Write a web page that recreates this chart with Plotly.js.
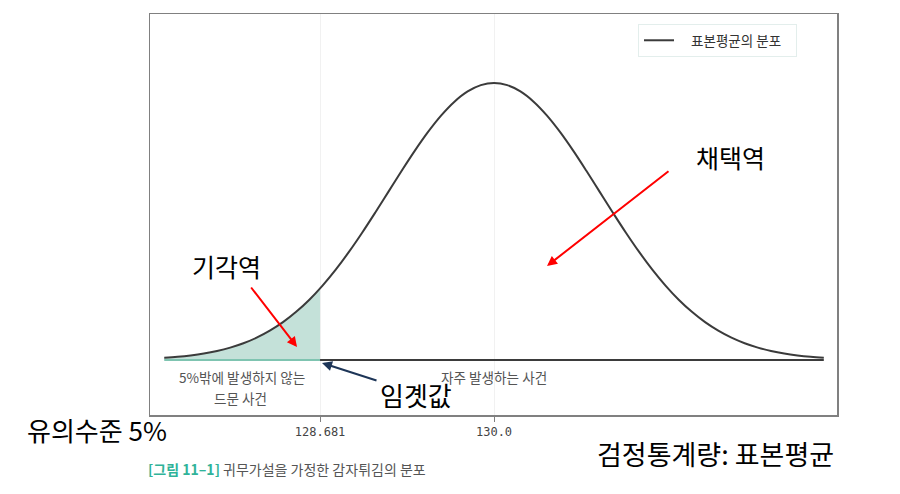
<!DOCTYPE html>
<html>
<head>
<meta charset="utf-8">
<script src="https://cdn.plot.ly/plotly-3.0.1.min.js"></script>
<style>html,body{margin:0;padding:0;background:#fff;}#chart{width:900px;height:494px;}</style>
</head>
<body>
<div id="chart"></div>
<script>
// Sample-mean values (x) and estimated curve heights
const xVals = [127.5,127.6,127.7,127.8,127.9,128.0,128.1,128.2,128.3,128.4,128.5,128.6,128.7,128.8,128.9,129.0,129.1,129.2,129.3,129.4,129.5,129.6,129.7,129.8,129.9,130.0,
               130.1,130.2,130.3,130.4,130.5,130.6,130.7,130.8,130.9,131.0,131.1,131.2,131.3,131.4,131.5,131.6,131.7,131.8,131.9,132.0,132.1,132.2,132.3,132.4,132.5];
const yVals = [0.0039,0.0056,0.0081,0.0115,0.0161,0.0222,0.0300,0.0400,0.0526,0.0679,0.0865,0.1083,0.1337,0.1623,0.1941,0.2286,0.2650,0.3024,0.3398,0.3760,0.4096,0.4393,0.4639,0.4823,0.4936,0.4975,
               0.4936,0.4823,0.4639,0.4393,0.4096,0.3760,0.3398,0.3024,0.2650,0.2286,0.1941,0.1623,0.1337,0.1083,0.0865,0.0679,0.0526,0.0400,0.0300,0.0222,0.0161,0.0115,0.0081,0.0056,0.0039];
const criticalX = 128.681;
const criticalY = 0.1286;
const meanX = 130.0;
const tickVals = [128.681, 130.0];
const tickText = ['128.681', '130.0'];
const legendLabel = '표본평균의 분포';

const tailX = xVals.filter(v => v <= criticalX).concat([criticalX]);
const tailY = yVals.slice(0, tailX.length - 1).concat([criticalY]);
const xMin = xVals[0], xMax = xVals[xVals.length - 1];

const kr = '"Noto Sans CJK KR", "Noto Sans", sans-serif';
const nb = '\u00a0';

const traces = [
  {x: tailX, y: tailY, type: 'scatter', mode: 'lines', fill: 'tozeroy', fillcolor: '#c4e1d9',
   line: {color: 'rgba(0,0,0,0)', width: 0}, showlegend: false, hoverinfo: 'skip'},
  {x: [xMin, criticalX], y: [0, 0], type: 'scatter', mode: 'lines',
   line: {color: '#7fc4b1', width: 2}, showlegend: false, hoverinfo: 'skip'},
  {x: [criticalX, xMax], y: [0, 0], type: 'scatter', mode: 'lines',
   line: {color: '#3b3b3b', width: 2}, showlegend: false, hoverinfo: 'skip'},
  {x: xVals, y: yVals, type: 'scatter', mode: 'lines', name: nb.repeat(4) + legendLabel + nb.repeat(3),
   line: {color: '#3b3b3b', width: 2, shape: 'spline'}}
];

function px(x) { return (x - 150) / 687; }
function py(y) { return (415 - y) / 401; }

function label(text, x, y, size, color) {
  return {text: text, x: px(x), y: py(y), xref: 'paper', yref: 'paper', xanchor: 'center', yanchor: 'middle',
          showarrow: false, font: {family: kr, size: size, color: color}};
}
function arrow(hx, hy, ax, ay, color) {
  return {text: '', x: px(hx), y: py(hy), xref: 'paper', yref: 'paper', showarrow: true, ax: ax, ay: ay,
          arrowcolor: color, arrowwidth: 2, arrowhead: 2, arrowsize: 1, standoff: 0};
}

const annotations = [
  label('채택역', 730, 157, 25, '#000'),
  arrow(547, 266, 123, -96, '#ff0000'),
  label('기각역', 226, 266, 25, '#000'),
  arrow(297, 347, -47, -61, '#ff0000'),
  label('임곗값', 416, 394, 26, '#000'),
  arrow(322, 363, 56, 18, '#1d3557'),
  label('5%밖에 발생하지 않는', 242, 377, 13.6, '#555'),
  label('드문 사건', 240, 398, 13.6, '#555'),
  label('자주 발생하는 사건', 494, 377, 13.6, '#555'),
  label('유의수준 5%', 97, 429, 26, '#000'),
  label('검정통계량: 표본평균', 715, 453, 27, '#000'),
  {text: '<span style="color:#30b399;font-weight:bold">[그림 11–1]</span> 귀무가설을 가정한 감자튀김의 분포', x: px(146), y: py(469),
   xref: 'paper', yref: 'paper', xanchor: 'left', yanchor: 'middle', showarrow: false, font: {family: kr, size: 14, color: '#555'}}
];

const layout = {
  width: 900, height: 494,
  margin: {l: 150, r: 63, t: 14, b: 79},
  paper_bgcolor: '#fff', plot_bgcolor: '#fff',
  xaxis: {range: [127.392, 132.600], tickvals: tickVals, ticktext: tickText,
          showgrid: true, gridcolor: '#f1f1f1', gridwidth: 1, zeroline: false,
          showline: true, mirror: true, linecolor: '#808080', linewidth: 1.5,
          ticks: 'outside', ticklen: 5, tickcolor: '#808080',
          tickfont: {family: '"DejaVu Sans Mono", monospace', size: 12, color: '#444'}},
  yaxis: {range: [-0.0988, 0.6214], showticklabels: false, showgrid: false, zeroline: false,
          showline: true, mirror: true, linecolor: '#808080', linewidth: 1.5, ticks: ''},
  showlegend: true,
  legend: {x: px(797), y: py(24), xanchor: 'right', yanchor: 'top', bgcolor: '#fff',
           bordercolor: '#e3eeec', borderwidth: 1, font: {family: kr, size: 13.5, color: '#333'}},
  annotations: annotations
};

Plotly.newPlot('chart', traces, layout, {displayModeBar: false, staticPlot: true});
</script>
</body>
</html>
